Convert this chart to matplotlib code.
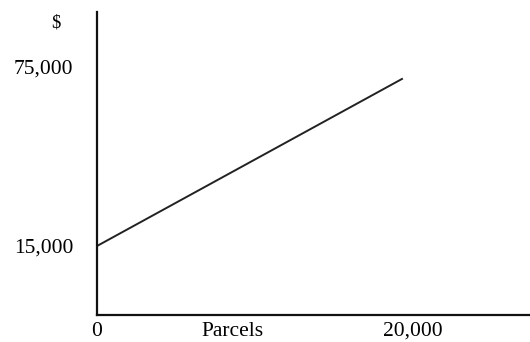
import matplotlib
matplotlib.use("Agg")
import matplotlib.pyplot as plt

parcels = [0, 19300]
cost = [15000, 71000]
xtick_vals = [0, 20000]
xtick_labels = ["0", "20,000"]
ytick_vals = [15000, 75000]
ytick_labels = ["15,000", "75,000"]

plt.rcParams['font.family'] = ['Liberation Serif', 'DejaVu Serif']

W, H = 530, 342
FS = 15.5
fig = plt.figure(figsize=(W / 100, H / 100), dpi=100)
ax = fig.add_axes([97 / W, (H - 315) / H, 1 - 97 / W, (315 - 12) / H])

ax.plot(parcels, cost, color='#222222', lw=1.4)
ax.set_xlim(0, 27400)
ax.set_ylim(-8130, 93440)

for s in ['top', 'right']:
    ax.spines[s].set_visible(False)
for s in ['left', 'bottom']:
    ax.spines[s].set_linewidth(1.6)
    ax.spines[s].set_color('#111111')

ax.set_xticks(xtick_vals)
ax.set_xticklabels(xtick_labels, fontsize=FS)
ax.set_yticks(ytick_vals)
ax.set_yticklabels(ytick_labels, fontsize=FS)
ax.tick_params(axis='both', length=0)
ax.tick_params(axis='y', pad=17)
ax.tick_params(axis='x', pad=5)

fig.text(56 / W, 1 - 23 / H, "$", fontsize=FS - 2, ha='center', va='center')
fig.text(233 / W, 1 - 331 / H, "Parcels", fontsize=FS, ha='center', va='center')

fig.savefig("out.png", dpi=100)
